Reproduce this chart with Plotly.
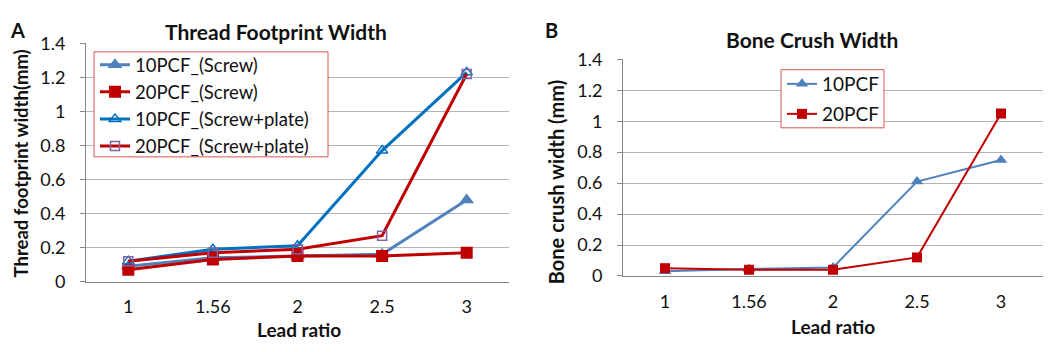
import plotly.graph_objects as go

lead_ratio = ["1", "1.56", "2", "2.5", "3"]

# Panel A: Thread Footprint Width (mm)
a_10pcf_screw = [0.09, 0.14, 0.15, 0.16, 0.48]
a_20pcf_screw = [0.07, 0.13, 0.15, 0.15, 0.17]
a_10pcf_screw_plate = [0.12, 0.19, 0.21, 0.77, 1.23]
a_20pcf_screw_plate = [0.12, 0.17, 0.19, 0.27, 1.22]

# Panel B: Bone Crush Width (mm)
b_10pcf = [0.03, 0.045, 0.055, 0.61, 0.75]
b_20pcf = [0.05, 0.04, 0.04, 0.12, 1.05]

y_ticks = [0, 0.2, 0.4, 0.6, 0.8, 1, 1.2, 1.4]
y_tick_text = ["0", "0.2", "0.4", "0.6", "0.8", "1", "1.2", "1.4"]

FONT = "Lato, 'Open Sans', sans-serif"
BLUE_L = "#4F81BD"
BLUE_D = "#0070C0"
RED = "#C00000"
PURPLE = "#8064A2"
TXT = "#111"

W, H = 1056, 352
OFF = 8  # page body margin


def px_x(v):
    return (v - OFF) / W


def px_y(v):
    return (H - (v - OFF)) / H


fig = go.Figure()

# Panel A traces
fig.add_trace(go.Scatter(x=lead_ratio, y=a_10pcf_screw, name="10PCF_(Screw)",
                         mode="lines+markers", line=dict(color=BLUE_L, width=3),
                         marker=dict(symbol="triangle-up", size=13, color=BLUE_L),
                         xaxis="x", yaxis="y", legend="legend"))
fig.add_trace(go.Scatter(x=lead_ratio, y=a_20pcf_screw, name="20PCF_(Screw)",
                         mode="lines+markers", line=dict(color=RED, width=3),
                         marker=dict(symbol="square", size=12, color=RED),
                         xaxis="x", yaxis="y", legend="legend"))
fig.add_trace(go.Scatter(x=lead_ratio, y=a_10pcf_screw_plate, name="10PCF_(Screw+plate)",
                         mode="lines+markers", line=dict(color=BLUE_D, width=3),
                         marker=dict(symbol="triangle-up-open", size=10, color=BLUE_D,
                                     line=dict(width=1.5, color=BLUE_D)),
                         xaxis="x", yaxis="y", legend="legend"))
fig.add_trace(go.Scatter(x=lead_ratio, y=a_20pcf_screw_plate, name="20PCF_(Screw+plate)",
                         mode="lines+markers", line=dict(color=RED, width=3),
                         marker=dict(symbol="square-open", size=9, color=PURPLE,
                                     line=dict(width=1.5, color=PURPLE)),
                         xaxis="x", yaxis="y", legend="legend"))

# Panel B traces
fig.add_trace(go.Scatter(x=lead_ratio, y=b_10pcf, name="10PCF",
                         mode="lines+markers", line=dict(color=BLUE_L, width=2),
                         marker=dict(symbol="triangle-up", size=11, color=BLUE_L),
                         xaxis="x2", yaxis="y2", legend="legend2"))
fig.add_trace(go.Scatter(x=lead_ratio, y=b_20pcf, name="20PCF",
                         mode="lines+markers", line=dict(color=RED, width=2),
                         marker=dict(symbol="square", size=10, color=RED),
                         xaxis="x2", yaxis="y2", legend="legend3"))

axis_common = dict(showline=True, linecolor="#868686", linewidth=1,
                   tickfont=dict(family=FONT, size=18, color=TXT),
                   zeroline=False)
xaxis_common = dict(type="category", range=[-0.5, 4.5], showgrid=False,
                    ticks="", ticklabelstandoff=9, **axis_common)
yaxis_common = dict(range=[0, 1.4], tickvals=y_ticks, ticktext=y_tick_text,
                    showgrid=True, gridcolor="#B4B4B4", gridwidth=1.3,
                    ticks="outside", ticklen=5, tickcolor="#868686",
                    ticklabelstandoff=11, **axis_common)

leg_common = dict(xanchor="left", yanchor="top", borderwidth=0,
                  bgcolor="rgba(0,0,0,0)", itemwidth=30)

fig.update_layout(
    width=W, height=H,
    margin=dict(l=0, r=0, t=0, b=0),
    paper_bgcolor="white", plot_bgcolor="white",
    font=dict(family=FONT, color=TXT),
    xaxis=dict(domain=[px_x(86), px_x(509)], anchor="y", **xaxis_common),
    yaxis=dict(domain=[px_y(287), px_y(33)], anchor="x", **yaxis_common),
    xaxis2=dict(domain=[px_x(623), px_x(1043)], anchor="y2", **xaxis_common),
    yaxis2=dict(domain=[px_y(281), px_y(50)], anchor="x2", **yaxis_common),
    legend=dict(x=px_x(95), y=px_y(36), font=dict(family=FONT, size=18.5, color=TXT),
                **leg_common),
    legend2=dict(x=px_x(782), y=px_y(56), font=dict(family=FONT, size=19, color=TXT),
                 **leg_common),
    legend3=dict(x=px_x(782), y=px_y(88), font=dict(family=FONT, size=19, color=TXT),
                 **leg_common),
    showlegend=True,
    shapes=[
        dict(type="rect", xref="paper", yref="paper",
             x0=px_x(94), x1=px_x(328), y0=px_y(154), y1=px_y(42),
             line=dict(color="#D9534F", width=1), fillcolor="white", layer="above"),
        dict(type="rect", xref="paper", yref="paper",
             x0=px_x(781), x1=px_x(884), y0=px_y(123), y1=px_y(61),
             line=dict(color="#D9534F", width=1), fillcolor="white", layer="above"),
    ],
)

annotations = [
    dict(text="<b>A</b>", x=px_x(17), y=px_y(19), font=dict(size=20)),
    dict(text="<b>B</b>", x=px_x(551), y=px_y(19), font=dict(size=20)),
    dict(text="<b>Thread Footprint Width</b>", x=px_x(276), y=px_y(20), font=dict(size=21)),
    dict(text="<b>Bone Crush Width</b>", x=px_x(812), y=px_y(29), font=dict(size=21)),
    dict(text="<b>Lead ratio</b>", x=px_x(299), y=px_y(338), font=dict(size=19)),
    dict(text="<b>Lead ratio</b>", x=px_x(833), y=px_y(335), font=dict(size=19)),
    dict(text="<b>Thread footprint width(mm)</b>", x=px_x(21), y=px_y(161),
         textangle=-90, font=dict(size=18.5)),
    dict(text="<b>Bone crush width (mm)</b>", x=px_x(556), y=px_y(181),
         textangle=-90, font=dict(size=20)),
]
for a in annotations:
    a.update(xref="paper", yref="paper", showarrow=False, xanchor="center", yanchor="middle")
    a["font"] = dict(family=FONT, color=TXT, **a["font"])
fig.update_layout(annotations=annotations)

fig.write_html("out.html")
